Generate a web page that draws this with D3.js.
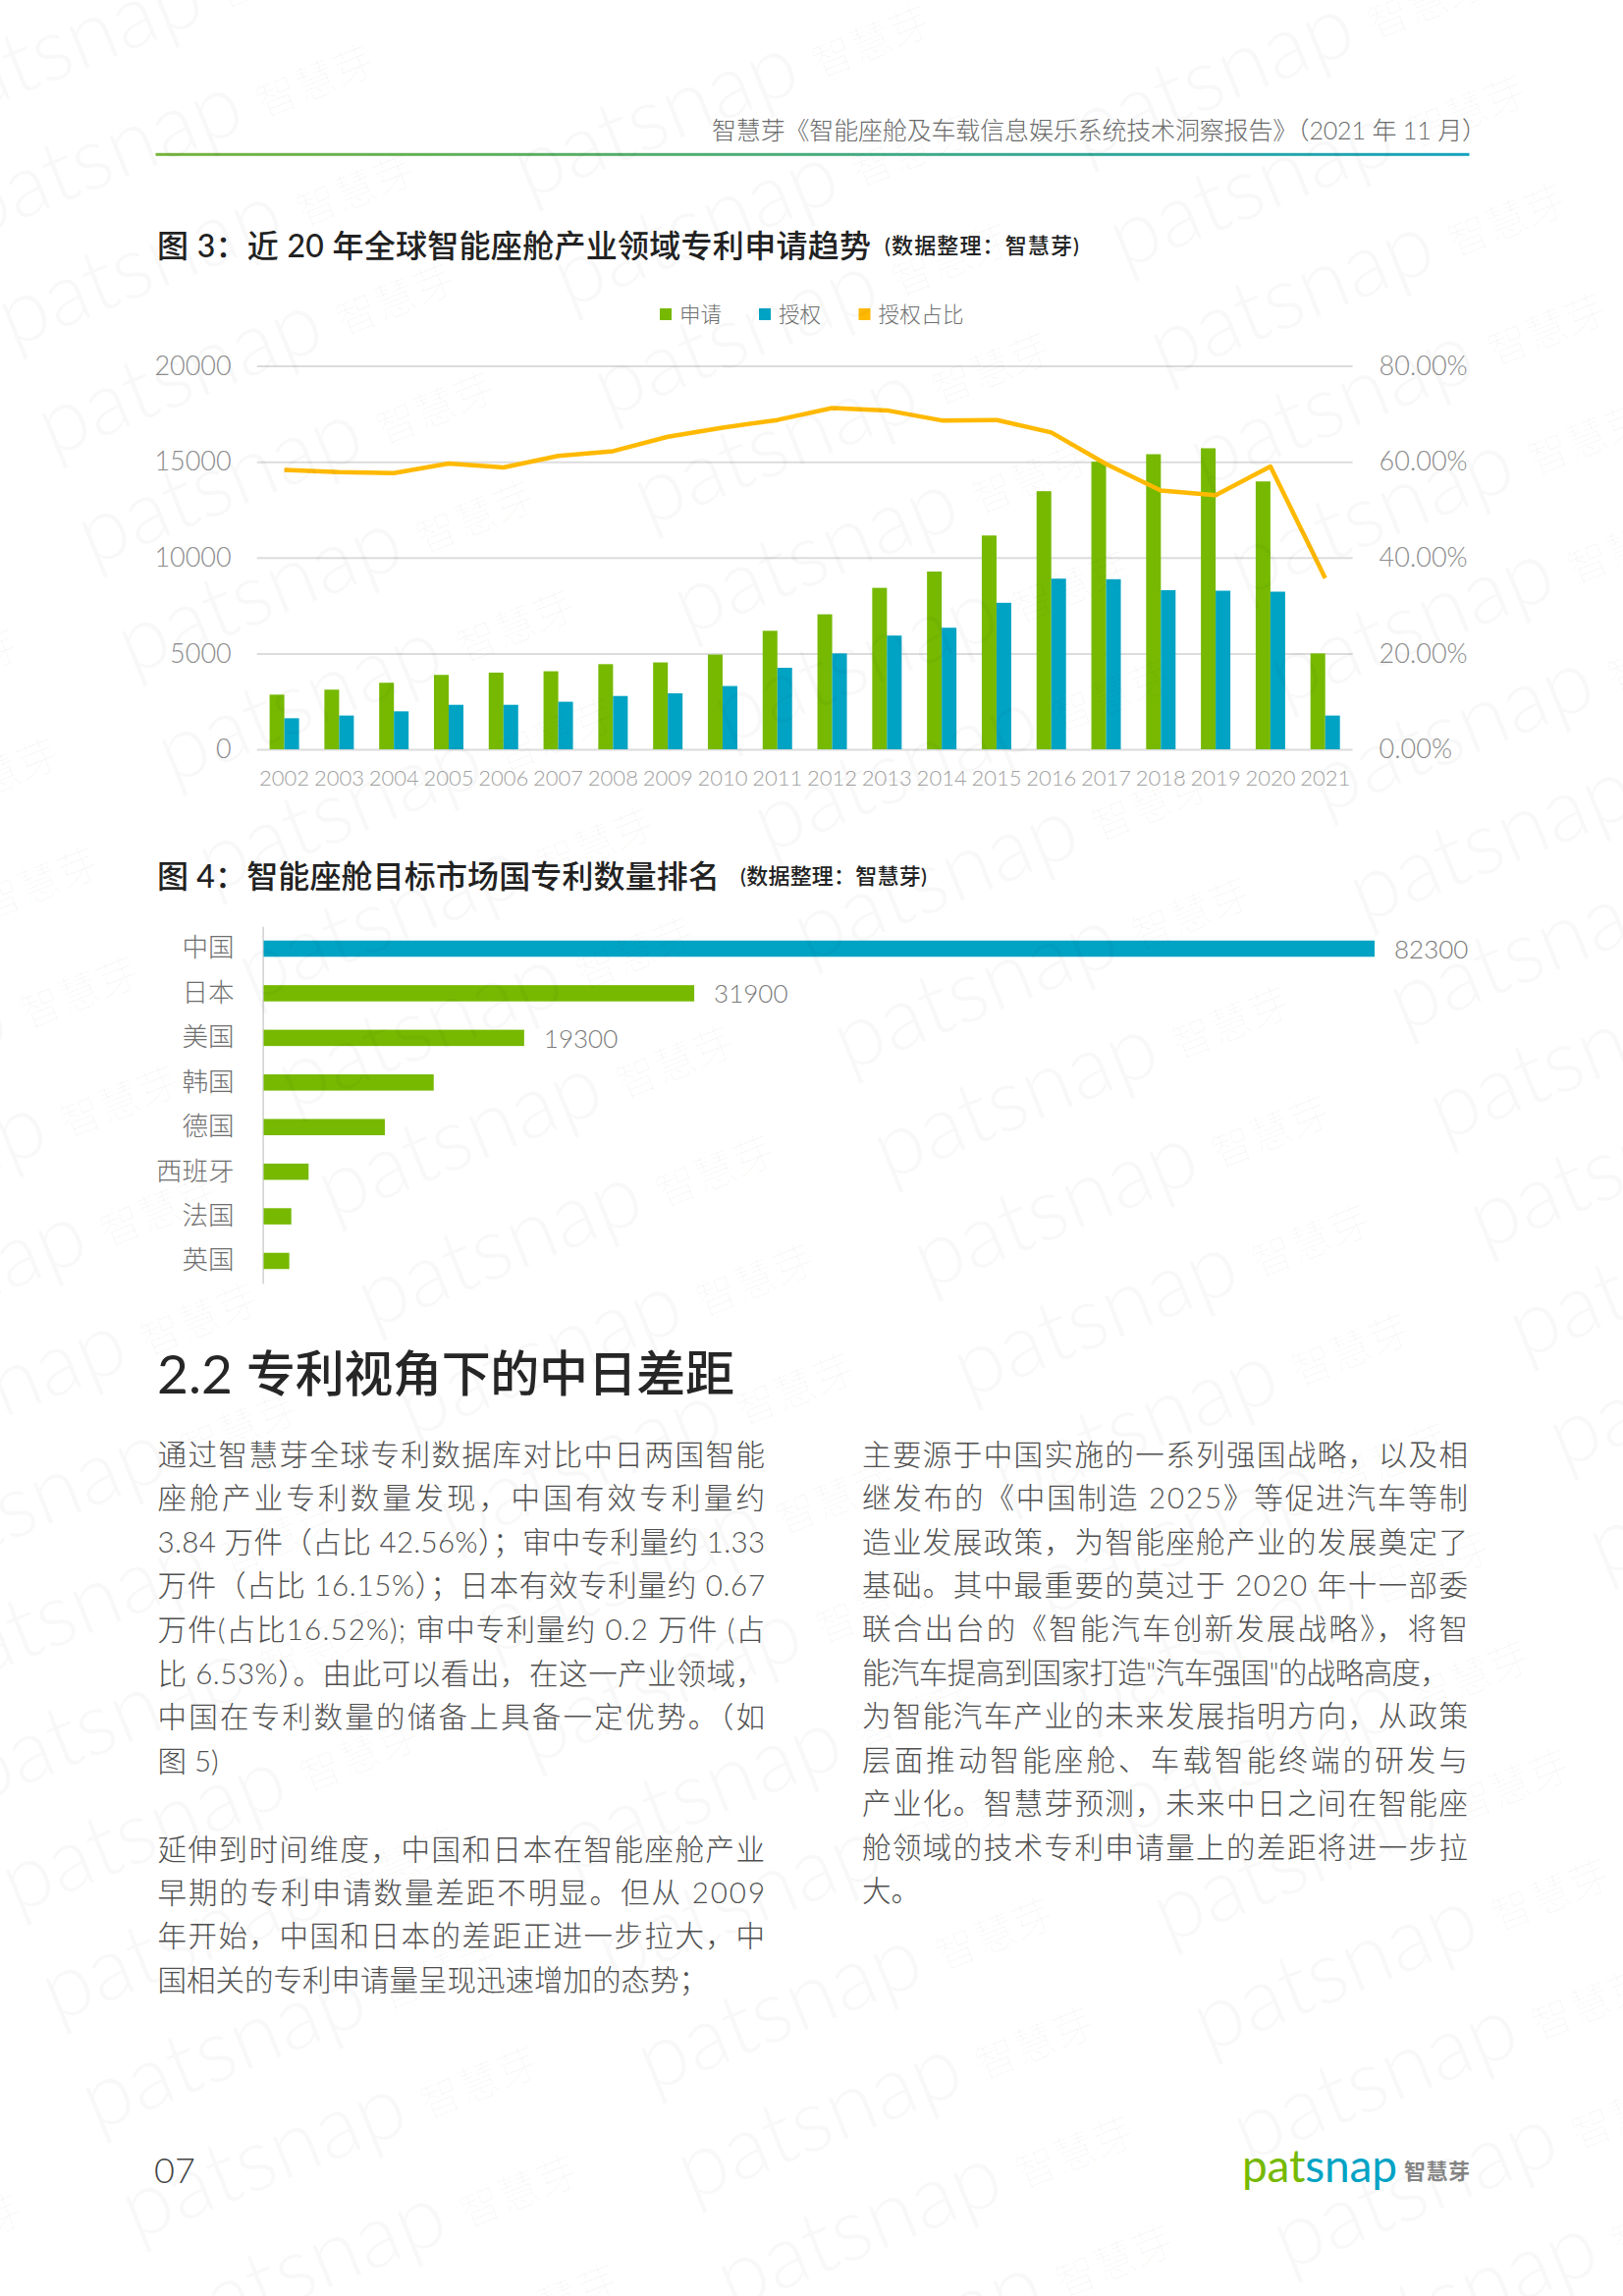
<!DOCTYPE html>
<html lang="zh-CN">
<head>
<meta charset="utf-8">
<script src="https://cdn.jsdelivr.net/npm/d3@7"></script>
<style>
  html, body { margin: 0; padding: 0; background: #fff; }
  svg { display: block; }
  text { font-family: Lato, "Noto Sans CJK SC", sans-serif; font-weight: 300; }
</style>
</head>
<body>
<div class="chart"></div>
<script>
/* chart data */
const years = ["2002","2003","2004","2005","2006","2007","2008","2009","2010","2011","2012","2013","2014","2015","2016","2017","2018","2019","2020","2021"];
const applied = [2850,3110,3470,3880,4000,4070,4440,4530,4940,6180,7040,8420,9270,11150,13460,15000,15390,15700,13970,5000];
const granted = [1620,1760,1980,2320,2320,2480,2780,2920,3300,4250,5000,5930,6340,7640,8900,8870,8300,8270,8220,1760];
const grantShare = [58.3,57.8,57.6,59.6,58.8,61.2,62.2,65.2,67.1,68.7,71.2,70.7,68.6,68.7,66.1,59.5,54,53,59,35.7];
const seriesNames = ["申请","授权","授权占比"];
const countTicks = [0,5000,10000,15000,20000];
const shareTicks = [0,20,40,60,80];

const countries = ["中国","日本","美国","韩国","德国","西班牙","法国","英国"];
const patentCounts = [82300,31900,19300,12600,8980,3330,2050,1900];
const labelledCounts = [82300,31900,19300];

/* page text */
const headerText = "智慧芽《智能座舱及车载信息娱乐系统技术洞察报告》（2021 年 11 月）";
const fig3Title = "图 3：近 20 年全球智能座舱产业领域专利申请趋势";
const fig4Title = "图 4：智能座舱目标市场国专利数量排名";
const dataNote = "(数据整理：智慧芽)";
const sectionNumber = "2.2";
const sectionTitle = "专利视角下的中日差距";
const leftPara1 = [
  "通过智慧芽全球专利数据库对比中日两国智能",
  "座舱产业专利数量发现，中国有效专利量约",
  "3.84 万件（占比 42.56%）；审中专利量约 1.33",
  "万件（占比 16.15%）；日本有效专利量约 0.67",
  "万件(占比16.52%); 审中专利量约 0.2 万件 (占",
  "比 6.53%）。由此可以看出，在这一产业领域，",
  "中国在专利数量的储备上具备一定优势。（如",
  "图 5)"
];
const leftPara2 = [
  "延伸到时间维度，中国和日本在智能座舱产业",
  "早期的专利申请数量差距不明显。但从 2009",
  "年开始，中国和日本的差距正进一步拉大，中",
  "国相关的专利申请量呈现迅速增加的态势；"
];
const rightPara = [
  "主要源于中国实施的一系列强国战略，以及相",
  "继发布的《中国制造 2025》等促进汽车等制",
  "造业发展政策，为智能座舱产业的发展奠定了",
  "基础。其中最重要的莫过于 2020 年十一部委",
  "联合出台的《智能汽车创新发展战略》，将智",
  "能汽车提高到国家打造\"汽车强国\"的战略高度，",
  "为智能汽车产业的未来发展指明方向，从政策",
  "层面推动智能座舱、车载智能终端的研发与",
  "产业化。智慧芽预测，未来中日之间在智能座",
  "舱领域的技术专利申请量上的差距将进一步拉",
  "大。"
];

const green = "#76b900";
const teal = "#00a3c4";
const yellow = "#ffb900";

const width = 1653;
const height = 2338;
const svg = d3.select(".chart").append("svg")
  .attr("width", width)
  .attr("height", height)
  .attr("viewBox", [0, 0, width, height]);

/* text placed by its vertical centre, squeezed to a width when one is given */
function label(str, x, cy, size, color, opts = {}) {
  const t = svg.append("text")
    .attr("x", x)
    .attr("y", cy + size * 0.36)
    .attr("font-size", size)
    .attr("fill", color)
    .text(str);
  if (opts.weight) t.style("font-weight", opts.weight);
  if (opts.len) t.attr("textLength", opts.len).attr("lengthAdjust", "spacing");
  return t;
}

/* page header */
label(headerText, 725, 133, 25, "#6a6a6a", { len: 789 });
const grad = svg.append("defs").append("linearGradient").attr("id", "rule");
grad.append("stop").attr("offset", "0%").attr("stop-color", "#76b53c");
grad.append("stop").attr("offset", "100%").attr("stop-color", "#16a2bd");
svg.append("rect")
  .attr("x", 158.5).attr("y", 155.8)
  .attr("width", 1338).attr("height", 3)
  .attr("fill", "url(#rule)");

/* figure titles */
label(fig3Title, 160, 250, 32, "#222", { weight: 500, len: 727 });
label(dataNote, 901, 250, 22, "#222", { weight: 500, len: 198 });
label(fig4Title, 160, 892, 32, "#222", { weight: 500, len: 573 });
label(dataNote, 754, 892, 22, "#222", { weight: 500, len: 190 });

/* figure 3: scales */
const x = d3.scaleBand().domain(years).range([261.7, 1377.6]);
const xInner = d3.scaleBand().domain([0, 1]).range([-15, 15]);
const yCount = d3.scaleLinear().domain([0, 20000]).range([763, 372.5]);
const yShare = d3.scaleLinear().domain([0, 80]).range([763, 372.5]);

/* figure 3: gridlines and left axis */
const leftAxis = svg.append("g")
  .attr("transform", "translate(261.7,0)")
  .call(d3.axisLeft(yCount).tickValues(countTicks).tickSize(-(1377.6 - 261.7)).tickPadding(26)
    .tickFormat(d => d));
leftAxis.select(".domain").remove();
leftAxis.selectAll("line").attr("stroke", "#dcdcdc").attr("stroke-width", 2);
leftAxis.selectAll("text").attr("font-size", 27).attr("fill", "#8c8c8c");

const rightAxis = svg.append("g")
  .attr("transform", "translate(1377.6,0)")
  .call(d3.axisRight(yShare).tickValues(shareTicks).tickSize(0).tickPadding(27)
    .tickFormat(d => d.toFixed(2) + "%"));
rightAxis.select(".domain").remove();
rightAxis.selectAll("text").attr("font-size", 27).attr("fill", "#8c8c8c");

const bottomAxis = svg.append("g")
  .attr("transform", "translate(0,763)")
  .call(d3.axisBottom(x).tickSize(0).tickPadding(21));
bottomAxis.select(".domain").remove();
bottomAxis.selectAll("text").attr("font-size", 22).attr("fill", "#a0a0a0");

/* figure 3: bars */
[applied, granted].forEach((values, i) => {
  svg.append("g")
    .selectAll("rect")
    .data(values)
    .join("rect")
    .attr("x", (d, j) => x(years[j]) + x.bandwidth() / 2 + xInner(i))
    .attr("y", d => yCount(d))
    .attr("width", xInner.bandwidth())
    .attr("height", d => yCount(0) - yCount(d))
    .attr("fill", i === 0 ? green : teal);
});

/* figure 3: share line */
const shareLine = d3.line()
  .x((d, j) => x(years[j]) + x.bandwidth() / 2)
  .y(d => yShare(d));
svg.append("path")
  .datum(grantShare)
  .attr("d", shareLine)
  .attr("fill", "none")
  .attr("stroke", yellow)
  .attr("stroke-width", 4.5)
  .attr("stroke-linejoin", "round");

/* figure 3: legend */
const legendX = [672, 773, 874.5];
const legendLen = [43, 43, 87];
seriesNames.forEach((name, i) => {
  svg.append("rect")
    .attr("x", legendX[i]).attr("y", 314)
    .attr("width", 12).attr("height", 12)
    .attr("fill", [green, teal, yellow][i]);
  label(name, legendX[i] + 20, 320, 21.5, "#6f6f6f", { len: legendLen[i] });
});

/* figure 4: horizontal bars */
const xPatents = d3.scaleLinear().domain([0, 82300]).range([268.5, 1400]);
const yCountry = d3.scaleBand().domain(countries).range([943.3, 1306.7])
  .paddingInner(0.636).paddingOuter(0.318);

const countryAxis = svg.append("g")
  .attr("transform", "translate(267.6,0)")
  .call(d3.axisLeft(yCountry).tickSize(0).tickPadding(29));
countryAxis.select(".domain").attr("stroke", "#cfcfcf").attr("stroke-width", 1.5);
countryAxis.selectAll("text").attr("font-size", 26.5).attr("fill", "#6f6f6f");

svg.append("g")
  .selectAll("rect")
  .data(patentCounts)
  .join("rect")
  .attr("x", xPatents(0))
  .attr("y", (d, i) => yCountry(countries[i]))
  .attr("width", d => xPatents(d) - xPatents(0))
  .attr("height", yCountry.bandwidth())
  .attr("fill", (d, i) => i === 0 ? teal : green);

svg.append("g")
  .selectAll("text")
  .data(labelledCounts)
  .join("text")
  .attr("x", d => xPatents(d) + 20)
  .attr("y", (d, i) => yCountry(countries[i]) + yCountry.bandwidth() / 2 + 10)
  .attr("font-size", 26)
  .attr("fill", "#7a7a7a")
  .text(d => d);

/* section heading and body text */
label(sectionNumber, 160, 1399, 55, "#262626", { weight: 400 });
label(sectionTitle, 251, 1399, 50, "#262626", { weight: 500, len: 497 });

function paragraph(lines, left, right, top, step) {
  lines.forEach((line, i) => {
    const len = lineWidths[line] === undefined ? right - left : lineWidths[line];
    label(line, left, top + i * step, 29.5, "#505050", len ? { len: len } : {});
  });
}
/* 0 keeps a paragraph's last line at its natural width */
const lineWidths = {
  "图 5)": 0,
  "国相关的专利申请量呈现迅速增加的态势；": 0,
  "大。": 0,
  "能汽车提高到国家打造\"汽车强国\"的战略高度，": 598
};
paragraph(leftPara1, 160.5, 779, 1481, 44.6);
paragraph(leftPara2, 160.5, 779, 1883, 44.3);
paragraph(rightPara, 878, 1495, 1481, 44.45);

/* footer */
label("07", 157, 2210, 36, "#444");
const logo = svg.append("text")
  .attr("x", 1265).attr("y", 2222)
  .attr("font-size", 46)
  .attr("textLength", 158)
  .style("font-weight", 400);
logo.append("tspan").attr("fill", green).text("pat");
logo.append("tspan").attr("fill", teal).text("snap");
label("智慧芽", 1430, 2211, 22, "#858585", { weight: 700, len: 67 });

/* faint repeating watermark laid over the page */
const watermark = svg.append("g")
  .attr("fill", "#000")
  .attr("fill-opacity", 0.028)
  .style("pointer-events", "none");
for (let j = -2; j <= 4; j++) {
  for (let i = -8; i <= 28; i++) {
    const wx = 321 + i * 40.7 + j * 566;
    const wy = 83 + i * 111 - j * 40;
    if (wx < -200 || wx > width + 400 || wy < -60 || wy > height + 130) continue;
    const mark = watermark.append("g")
      .attr("transform", `translate(${wx},${wy}) rotate(-22)`);
    mark.append("text")
      .attr("x", -80).attr("y", 18)
      .attr("text-anchor", "end")
      .attr("font-size", 90)
      .text("patsnap");
    mark.append("text")
      .attr("y", 15)
      .attr("text-anchor", "middle")
      .attr("font-size", 42)
      .text("智慧芽");
  }
}
</script>
</body>
</html>
